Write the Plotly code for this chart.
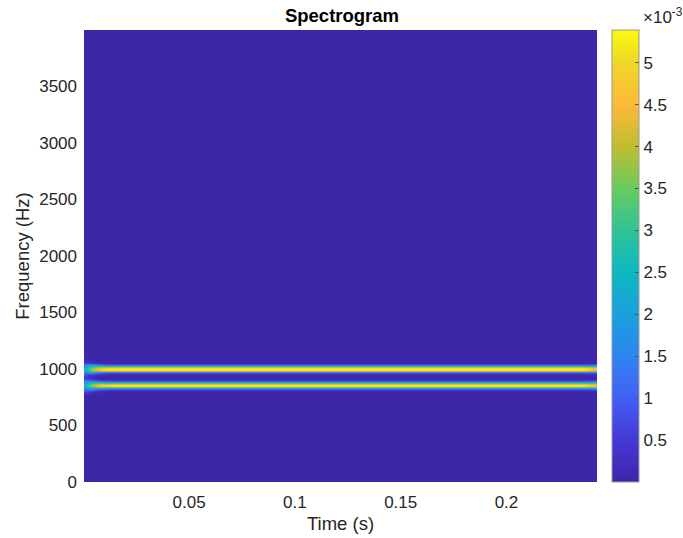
import numpy as np
import plotly.graph_objects as go

# ---- data ----
tone_freqs = [1000.0, 855.0]                 # Hz, two horizontal lines
peak_power = 5.35e-3                         # power at line centres
# relative power vs. offset from a line centre (offset in frequency bins of 7.8125 Hz)
profile_offsets_bins = [0, 1, 2, 3, 4, 5, 6, 7, 8]
profile_values = [1.0, 0.93, 0.75, 0.50, 0.27, 0.11, 0.04, 0.012, 0.003]
# onset / end behaviour of the frames (amplitude factor, width factor)
start_amp = [0.38, 0.72, 0.92, 0.98]
start_width = [1.9, 1.35, 1.1, 1.0]
end_amp = [0.92, 0.82]
end_width = [1.05, 1.15]
noise_floor = 2e-7

cbar_tickvals = [0.5e-3, 1e-3, 1.5e-3, 2e-3, 2.5e-3, 3e-3, 3.5e-3, 4e-3, 4.5e-3, 5e-3]
cbar_ticktext = ["0.5", "1", "1.5", "2", "2.5", "3", "3.5", "4", "4.5", "5"]
x_tickvals = [0.05, 0.1, 0.15, 0.2]
x_ticktext = ["0.05", "0.1", "0.15", "0.2"]
y_tickvals = [0, 500, 1000, 1500, 2000, 2500, 3000, 3500]

# ---- grid (axes of the spectrogram) ----
f_res = 7.8125
freqs = np.arange(0, 4000 + f_res / 2, f_res)
times = np.arange(0, 0.2441, 0.004)
n_t = len(times)

amp = np.ones(n_t)
width = np.ones(n_t)
amp[:len(start_amp)] = start_amp
width[:len(start_width)] = start_width
amp[-len(end_amp):] = end_amp
width[-len(end_width):] = end_width

prof_hz = np.array(profile_offsets_bins) * f_res
prof_val = np.array(profile_values)

Z = np.full((len(freqs), n_t), noise_floor)
for f0 in tone_freqs:
    d = np.abs(freqs - f0)
    for j in range(n_t):
        Z[:, j] += peak_power * amp[j] * np.interp(d / width[j], prof_hz, prof_val, right=0.0)

parula = [
    [0.00, "rgb(62,38,168)"],
    [0.09, "rgb(68,55,214)"],
    [0.19, "rgb(67,97,245)"],
    [0.28, "rgb(45,133,240)"],
    [0.37, "rgb(27,160,220)"],
    [0.47, "rgb(14,185,190)"],
    [0.56, "rgb(48,196,148)"],
    [0.65, "rgb(105,203,95)"],
    [0.74, "rgb(190,190,50)"],
    [0.83, "rgb(252,184,58)"],
    [0.93, "rgb(240,215,40)"],
    [1.00, "rgb(249,251,14)"],
]

FONT = "Liberation Sans, Arial, Helvetica, sans-serif"
TXT = "#262626"

fig = go.Figure(
    go.Heatmap(
        x=times, y=freqs, z=Z,
        colorscale=parula, zmin=0.0, zmax=5.39e-3, zsmooth="best",
        colorbar=dict(
            x=1.0292, xanchor="left", xpad=0,
            y=0.5, yanchor="middle", len=1.0, lenmode="fraction", ypad=0,
            thickness=27, thicknessmode="pixels",
            outlinecolor="#9a9a9a", outlinewidth=1,
            tickvals=cbar_tickvals, ticktext=cbar_ticktext,
            ticks="inside", ticklen=4, tickcolor="#555555",
            tickfont=dict(family=FONT, size=17, color=TXT),
        ),
    )
)

fig.update_layout(
    width=683, height=538,
    margin=dict(l=84, r=86, t=30, b=56, autoexpand=False),
    paper_bgcolor="white", plot_bgcolor="rgb(62,38,168)",
    title=dict(text="<b>Spectrogram</b>", x=342 / 683, xanchor="center",
               y=1 - 16 / 538, yanchor="middle",
               font=dict(family=FONT, size=18.5, color="black")),
    xaxis=dict(range=[0.0003, 0.2428], tickvals=x_tickvals, ticktext=x_ticktext,
               ticks="", showgrid=False, zeroline=False, ticklabelstandoff=8,
               automargin=False,
               tickfont=dict(family=FONT, size=17, color=TXT),
               title=dict(text="Time (s)", font=dict(family=FONT, size=18.5, color=TXT), standoff=6)),
    yaxis=dict(range=[0, 3996], tickvals=y_tickvals,
               ticks="", showgrid=False, zeroline=False, ticklabelstandoff=6,
               automargin=False,
               tickfont=dict(family=FONT, size=17, color=TXT),
               title=dict(text="Frequency (Hz)", font=dict(family=FONT, size=18.5, color=TXT), standoff=4)),
    annotations=[dict(text="×10<sup>-3</sup>", xref="paper", yref="paper",
                      x=(641 - 84) / 513, y=(482 - 16) / 452, xanchor="left", yanchor="middle",
                      showarrow=False,
                      font=dict(family=FONT, size=17, color=TXT))],
)

fig.write_html("out.html")
